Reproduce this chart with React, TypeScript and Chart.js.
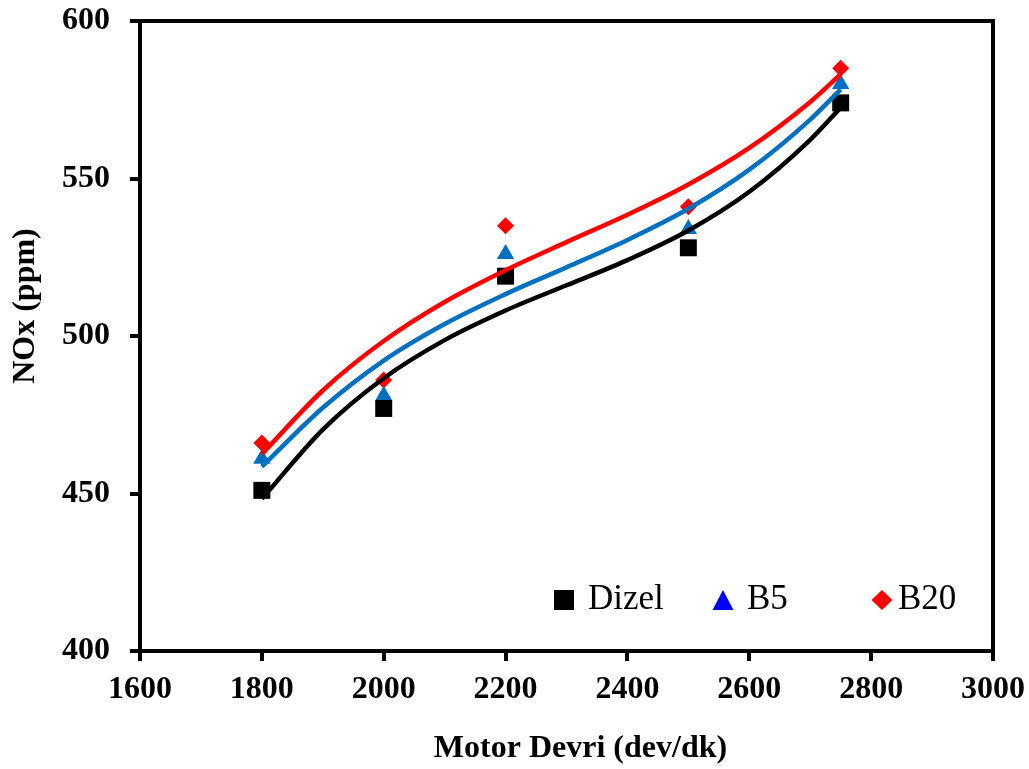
import React, { useEffect, useRef } from 'react';
import { Chart, registerables } from 'chart.js';

Chart.register(...registerables);

// Measured data (Motor Devri vs NOx)
const speeds = [1800, 2000, 2200, 2500, 2750];
const dizel = [451, 477, 519, 528, 574];
const b5 = [461, 481, 526, 534, 580];
const b20 = [466, 486, 535, 541, 585];

// Trend lines (3rd order polynomial curves)
const trendSpeeds = [1800, 1900, 2000, 2100, 2200, 2300, 2400, 2500, 2600, 2700, 2750];
const dizelTrend = [448.3, 470.3, 486.6, 498.7, 508.1, 516.1, 524.1, 533.5, 545.8, 562.3, 572.5];
const b5Trend = [458.5, 477.2, 492.2, 503.8, 513.3, 521.8, 530.5, 540.4, 552.8, 568.7, 578.3];
const b20Trend = [462.5, 482.7, 498.4, 510.8, 520.9, 529.8, 538.5, 548.1, 559.7, 574.3, 583.1];

const xTicks = [1600, 1800, 2000, 2200, 2400, 2600, 2800, 3000];
const yTicks = [400, 450, 500, 550, 600];

const seriesNames = ['Dizel', 'B5', 'B20'];
const xTitle = 'Motor Devri (dev/dk)';
const yTitle = 'NOx (ppm)';

const SERIF = "'Liberation Serif', 'Times New Roman', serif";
const BLACK = '#000000';
const BLUE = '#0070C0';
const RED = '#FF0000';

const pts = (xs: number[], ys: number[]) => xs.map((x, i) => ({ x, y: ys[i] }));

const boxPlugin = {
  id: 'plotBox',
  beforeDatasetsDraw(chart: any) {
    const { ctx, chartArea } = chart;
    ctx.save();
    ctx.strokeStyle = '#000';
    ctx.lineWidth = 4;
    ctx.strokeRect(chartArea.left, chartArea.top, chartArea.right - chartArea.left, chartArea.bottom - chartArea.top);
    ctx.restore();
  },
};

const titlesPlugin = {
  id: 'axisTitles',
  afterDraw(chart: any) {
    const { ctx, chartArea } = chart;
    ctx.save();
    ctx.fillStyle = '#000';
    ctx.font = `bold 32px ${SERIF}`;
    ctx.textAlign = 'center';
    ctx.textBaseline = 'middle';
    const cx = (chartArea.left + chartArea.right) / 2 + 14;
    ctx.fillText(xTitle, cx, 749);
    ctx.translate(26, (chartArea.top + chartArea.bottom) / 2 - 30);
    ctx.rotate(-Math.PI / 2);
    ctx.fillText(yTitle, 0, 0);
    ctx.restore();
  },
};

const legendPlugin = {
  id: 'customLegend',
  afterDatasetsDraw(chart: any) {
    const { ctx } = chart;
    const markerX = [564, 723, 882];
    const textX = [588, 747, 898];
    const cy = 600;
    ctx.save();
    ctx.fillStyle = '#000';
    ctx.fillRect(markerX[0] - 10, cy - 10, 20, 20);
    ctx.fillStyle = '#0000FF';
    ctx.beginPath();
    ctx.moveTo(markerX[1], cy - 10);
    ctx.lineTo(markerX[1] + 10.5, cy + 10);
    ctx.lineTo(markerX[1] - 10.5, cy + 10);
    ctx.closePath();
    ctx.fill();
    ctx.fillStyle = '#FF0000';
    ctx.beginPath();
    ctx.moveTo(markerX[2], cy - 10);
    ctx.lineTo(markerX[2] + 10.5, cy);
    ctx.lineTo(markerX[2], cy + 10);
    ctx.lineTo(markerX[2] - 10.5, cy);
    ctx.closePath();
    ctx.fill();
    ctx.fillStyle = '#000';
    ctx.font = `35px ${SERIF}`;
    ctx.textAlign = 'left';
    ctx.textBaseline = 'alphabetic';
    seriesNames.forEach((n, i) => ctx.fillText(n, textX[i], 609));
    ctx.restore();
  },
};

export default function App() {
  const ref = useRef<HTMLCanvasElement | null>(null);

  useEffect(() => {
    document.body.style.margin = '0';
    const canvas = ref.current;
    if (!canvas) return;
    const tickFont = { family: SERIF, size: 32, weight: 'bold' as const };
    const trend = (label: string, ys: number[], color: string, order: number) => ({
      label,
      data: pts(trendSpeeds, ys),
      showLine: true,
      borderColor: color,
      borderWidth: 4.5,
      pointRadius: 0,
      cubicInterpolationMode: 'monotone',
      order,
    });
    const chart = new Chart(canvas, {
      type: 'scatter',
      data: {
        datasets: [
          trend(seriesNames[0] + ' trend', dizelTrend, BLACK, 1),
          trend(seriesNames[1] + ' trend', b5Trend, BLUE, 2),
          trend(seriesNames[2] + ' trend', b20Trend, RED, 3),
          {
            label: seriesNames[0],
            data: pts(speeds, dizel),
            pointStyle: 'rect',
            pointRadius: 12,
            pointBackgroundColor: BLACK,
            pointBorderWidth: 0,
            borderWidth: 0,
            order: 10,
          },
          {
            label: seriesNames[1],
            data: pts(speeds, b5),
            pointStyle: 'triangle',
            pointRadius: 10,
            pointBackgroundColor: BLUE,
            pointBorderWidth: 0,
            borderWidth: 0,
            order: 11,
          },
          {
            label: seriesNames[2],
            data: pts(speeds, b20),
            pointStyle: 'rectRot',
            pointRadius: 8.5,
            pointBackgroundColor: RED,
            pointBorderWidth: 0,
            borderWidth: 0,
            order: 12,
          },
        ],
      },
      options: {
        responsive: false,
        animation: false,
        devicePixelRatio: 1,
        layout: { padding: { left: 0, right: 36, top: 21, bottom: 0 } },
        plugins: {
          legend: { display: false },
          tooltip: { enabled: false },
        },
        scales: {
          x: {
            type: 'linear',
            min: 1600,
            max: 3000,
            afterBuildTicks: (s: any) => {
              s.ticks = xTicks.map((v) => ({ value: v }));
            },
            afterFit: (s: any) => {
              s.height = 118;
              s.paddingLeft = 0;
              s.paddingRight = 0;
            },
            grid: { drawOnChartArea: false, drawTicks: true, tickLength: 10, lineWidth: 4, color: '#000' },
            border: { display: true, width: 4, color: '#000' },
            ticks: {
              padding: 10,
              color: '#000',
              font: tickFont,
              maxRotation: 0,
              autoSkip: false,
              callback: (v: any) => String(v),
            },
          },
          y: {
            type: 'linear',
            min: 400,
            max: 600,
            afterBuildTicks: (s: any) => {
              s.ticks = yTicks.map((v) => ({ value: v }));
            },
            afterFit: (s: any) => {
              s.width = 140;
              s.paddingTop = 0;
              s.paddingBottom = 0;
            },
            grid: { drawOnChartArea: false, drawTicks: true, tickLength: 10, lineWidth: 4, color: '#000' },
            border: { display: true, width: 4, color: '#000' },
            ticks: { padding: 20, color: '#000', font: tickFont, autoSkip: false, callback: (v: any) => String(v) },
          },
        },
      },
      plugins: [boxPlugin, legendPlugin, titlesPlugin],
    } as any);
    return () => chart.destroy();
  }, []);

  return (
    <div style={{ width: 1029, height: 769 }}>
      <canvas ref={ref} width={1029} height={769} style={{ display: 'block' }} />
    </div>
  );
}
